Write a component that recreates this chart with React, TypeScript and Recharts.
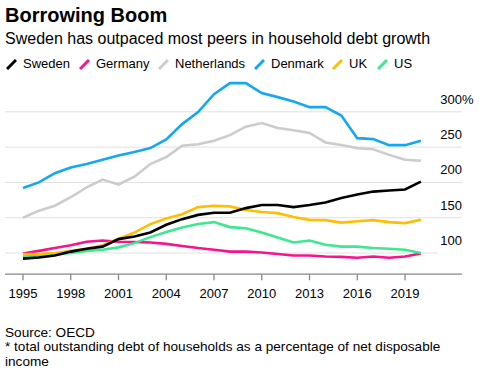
import React from "react";
import { LineChart, Line, XAxis, YAxis, ReferenceLine } from "recharts";

const years = [1995, 1996, 1997, 1998, 1999, 2000, 2001, 2002, 2003, 2004, 2005, 2006, 2007, 2008, 2009, 2010, 2011, 2012, 2013, 2014, 2015, 2016, 2017, 2018, 2019, 2020];
const sweden = [92, 93.7, 96.5, 102, 106, 109, 119.7, 123.5, 129, 140, 148, 154, 157, 157, 163.6, 168, 168, 165, 168, 171.6, 177.8, 183, 187, 188.5, 190, 201];
const germany = [99.4, 103, 107, 111, 116, 117.8, 116, 115.5, 115, 113, 110, 107, 104.6, 102, 102, 100.7, 98.5, 96.5, 96.5, 95, 94.5, 93.3, 95, 93.3, 95, 99.4];
const netherlands = [150, 160, 167, 179, 193, 204, 197, 208, 226, 236, 252, 254, 259, 267, 279, 284, 277, 274, 270, 256.6, 253, 248.6, 247, 239, 232, 230.6];
const denmark = [192, 200, 213, 221, 226, 232, 238, 243, 248.6, 261, 282.6, 299.6, 325, 340.6, 340.6, 326.5, 320.8, 314.6, 306.6, 306.6, 294.8, 262.7, 261.3, 252.8, 252.8, 259];
const uk = [98.5, 99, 100, 103, 106, 111, 120, 129, 141, 149, 155, 165, 167, 166, 161, 158, 156.5, 151, 147, 146.6, 143, 145, 146.6, 143.8, 142.4, 147];
const us = [95, 96, 97.5, 100, 103, 104.6, 108, 114, 122.5, 129.6, 136, 141, 143.8, 136.7, 135, 129, 122, 115, 117.8, 111.7, 109, 109, 107, 106, 104.6, 100];

const xTicks = [1995, 1998, 2001, 2004, 2007, 2010, 2013, 2016, 2019];
const yTicks = [100, 150, 200, 250, 300];

const series = [
  { key: "Sweden", values: sweden, color: "#000000" },
  { key: "Germany", values: germany, color: "#f5148c" },
  { key: "Netherlands", values: netherlands, color: "#cccccc" },
  { key: "Denmark", values: denmark, color: "#14a8f0" },
  { key: "UK", values: uk, color: "#ffbe00" },
  { key: "US", values: us, color: "#3ee890" },
];
const drawOrder = ["Netherlands", "Denmark", "Germany", "US", "UK", "Sweden"];

const data = years.map((year, i) => {
  const row: Record<string, number> = { year };
  series.forEach((s) => {
    row[s.key] = s.values[i];
  });
  return row;
});

const FONT = '"Liberation Sans", Arial, Helvetica, sans-serif';

const XTick = (props: any) => {
  const { x, y, payload } = props;
  return (
    <text x={x} y={y} dy={10} textAnchor="middle" fontSize={13} fill="#000" fontFamily={FONT}>
      {payload.value}
    </text>
  );
};

const YTick = (props: any) => {
  const { x, y, payload } = props;
  return (
    <g>
      <text x={x} y={y} dy={-8} textAnchor="end" fontSize={13} fill="#000" fontFamily={FONT}>
        {payload.value}
      </text>
      {payload.value === 300 ? (
        <text x={x} y={y} dy={-8} textAnchor="start" fontSize={13} fill="#000" fontFamily={FONT}>
          %
        </text>
      ) : null}
    </g>
  );
};

export default function App() {
  return (
    <div style={{ position: "absolute", left: 0, top: 0, width: 479, height: 376, background: "#fff", fontFamily: FONT, color: "#000" }}>
      <div style={{ position: "absolute", left: 5, top: 5, fontSize: 20, lineHeight: "20px", fontWeight: 700, whiteSpace: "nowrap" }}>
        Borrowing Boom
      </div>
      <div style={{ position: "absolute", left: 5, top: 31, fontSize: 16, lineHeight: "16px", whiteSpace: "nowrap" }}>
        Sweden has outpaced most peers in household debt growth
      </div>
      <div style={{ position: "absolute", left: 0, top: 57, height: 13, width: 479 }}>
        {series.map((s, i) => {
          const lefts = [6, 79, 158, 254, 332, 377];
          return (
            <div key={s.key} style={{ position: "absolute", left: lefts[i], top: 0, display: "flex", alignItems: "center", whiteSpace: "nowrap", fontSize: 13, lineHeight: "13px" }}>
              <svg width={11} height={11} style={{ marginRight: 6, marginTop: 1 }}>
                <line x1={1} y1={10} x2={10} y2={1} stroke={s.color} strokeWidth={3} />
              </svg>
              <span>{s.key}</span>
            </div>
          );
        })}
      </div>
      <div style={{ position: "absolute", left: 0, top: 0 }}>
        <LineChart width={479} height={376} data={data} margin={{ top: 76.5, right: 0, bottom: 71.8, left: 5 }}>
          <XAxis
            dataKey="year"
            type="number"
            domain={[1993.87, 2022.58]}
            allowDataOverflow
            ticks={xTicks}
            height={30}
            tick={<XTick />}
            tickSize={6}
            tickMargin={8}
            axisLine={{ stroke: "#888", strokeWidth: 1.3 }}
            tickLine={{ stroke: "#888", strokeWidth: 1.3 }}
          />
          <YAxis
            orientation="right"
            type="number"
            domain={[70, 350]}
            allowDataOverflow
            ticks={yTicks}
            width={17}
            axisLine={false}
            tickLine={false}
            tickSize={0}
            tickMargin={0}
            tick={<YTick />}
            interval={0}
          />
          {yTicks.filter((v) => v !== 100).map((v) => (
            <ReferenceLine key={v} y={v} stroke="#e0e0e0" strokeWidth={1} />
          ))}
          <ReferenceLine
            segment={[
              { x: 1993.87, y: 100 },
              { x: 2021.07, y: 100 },
            ]}
            stroke="#e0e0e0"
            strokeWidth={1}
          />
          {drawOrder.map((k) => {
            const s = series.find((q) => q.key === k)!;
            return (
              <Line
                key={k}
                type="linear"
                dataKey={k}
                stroke={s.color}
                strokeWidth={2.6}
                dot={false}
                isAnimationActive={false}
              />
            );
          })}
        </LineChart>
      </div>
      <div style={{ position: "absolute", left: 5, top: 325.5, fontSize: 13.6, lineHeight: "14.8px", whiteSpace: "nowrap" }}>
        Source: OECD
        <br />
        * total outstanding debt of households as a percentage of net disposable
        <br />
        income
      </div>
    </div>
  );
}
